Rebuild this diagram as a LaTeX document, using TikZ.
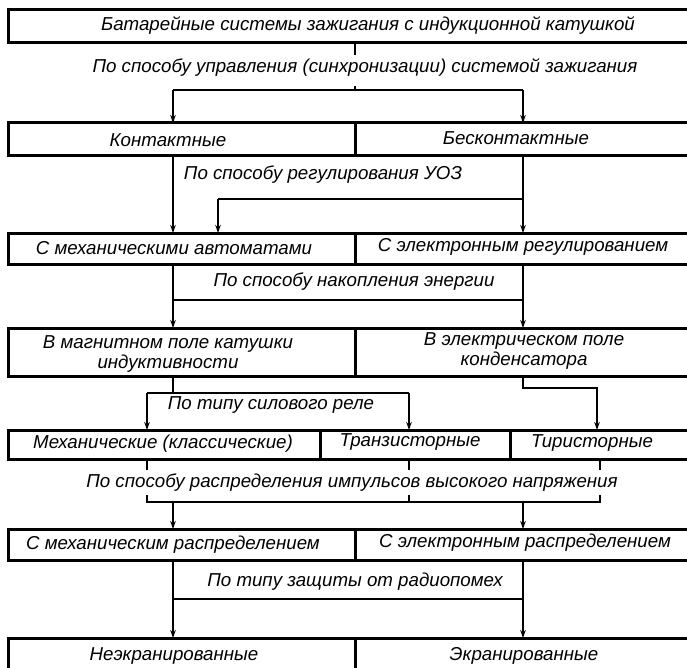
\documentclass[tikz,border=0pt]{standalone}
\usepackage{fontspec}
\setmainfont{Liberation Sans}
\usetikzlibrary{arrows.meta}

\begin{document}
\begin{tikzpicture}[x=1pt, y=-1pt,
    every node/.style={font=\fontsize{18.7}{20}\selectfont\itshape, inner sep=0pt, align=center},
    row/.style={line width=3pt},
    conn/.style={line width=2.4pt},
    arr/.style={line width=2.4pt, -{Stealth[length=8pt, width=5.5pt]}}]
  \useasboundingbox (0,0) rectangle (687,668);
  \clip (0,0) rectangle (687,668);

  % Строки
  \draw[row] (8,10) rectangle (760,43);
  \draw[row] (8,123) rectangle (760,156);
  \draw[row] (355,123) -- (355,156);
  \draw[row] (8,233) rectangle (760,264);
  \draw[row] (355,233) -- (355,264);
  \draw[row] (8,328) rectangle (760,376);
  \draw[row] (355,328) -- (355,376);
  \draw[row] (8,430) rectangle (760,459);
  \draw[row] (320,430) -- (320,459);
  \draw[row] (510,430) -- (510,459);
  \draw[row] (8,529) rectangle (760,560);
  \draw[row] (355,529) -- (355,560);
  \draw[row] (8,638) rectangle (760,700);
  \draw[row] (355,638) -- (355,700);

  \coordinate (r1b) at (0,43);
  \coordinate (r2t) at (0,123);
  \coordinate (r2b) at (0,156);
  \coordinate (r3t) at (0,233);
  \coordinate (r3b) at (0,264);
  \coordinate (r4t) at (0,328);
  \coordinate (r4b) at (0,376);
  \coordinate (r5t) at (0,430);
  \coordinate (r5b) at (0,459);
  \coordinate (r6t) at (0,529);
  \coordinate (r6b) at (0,560);
  \coordinate (r7t) at (0,638);

  % Тексты в строках
  \node (bat) at (368,26) {Батарейные системы зажигания с индукционной катушкой};
  \node (kont) at (168,140) {Контактные};
  \node (bkont) at (516,138) {Бесконтактные};
  \node (mech) at (174,248) {С механическими автоматами};
  \node (el) at (523,247) {С электронным регулированием};
  \node (magn) at (168,354) {В магнитном поле катушки\\индуктивности};
  \node (kond) at (524,351) {В электрическом поле\\конденсатора};
  \node (klass) at (163,444) {Механические (классические)};
  \node (tranz) at (410,442) {Транзисторные};
  \node (tir) at (592,443) {Тиристорные};
  \node (mraspr) at (173,545) {С механическим распределением};
  \node (eraspr) at (525,543) {С электронным распределением};
  \node (neekr) at (174,656) {Неэкранированные};
  \node (ekr) at (524,656) {Экранированные};

  % Признаки
  \node (q1) at (365,68) {По способу управления (синхронизации) системой зажигания};
  \node (q2) at (323,175) {По способу регулирования УОЗ};
  \node (q3) at (354,282) {По способу накопления энергии};
  \node (q4) at (271,405) {По типу силового реле};
  \node (q5) at (352,483) {По способу распределения импульсов высокого напряжения};
  \node (q6) at (355,582) {По типу защиты от радиопомех};

  % Уровень 1
  \coordinate (u1) at (355,55);
  \coordinate (u2) at (355,86);
  \coordinate (h1l) at (173,90);
  \coordinate (h1r) at (523,90);
  \draw[conn] (u1 |- r1b) -- (u1);
  \draw[conn] (u2) -- (u2 |- h1l);
  \draw[conn] (h1l) -- (h1r);
  \draw[arr] (h1l) -- (h1l |- r2t);
  \draw[arr] (h1r) -- (h1r |- r2t);

  % Уровень 2
  \coordinate (h2l) at (218,199);
  \coordinate (h2r) at (523,199);
  \draw[arr] (h1l |- r2b) -- (h1l |- r3t);
  \draw[arr] (h2r |- r2b) -- (h2r |- r3t);
  \draw[conn] (h2l) -- (h2r);
  \draw[arr] (h2l) -- (h2l |- r3t);

  % Уровень 3
  \coordinate (h3l) at (173,300);
  \coordinate (h3r) at (523,300);
  \draw[arr] (h3l |- r3b) -- (h3l |- r4t);
  \draw[arr] (h3r |- r3b) -- (h3r |- r4t);
  \draw[conn] (h3l) -- (h3r);

  % Уровень 4
  \coordinate (s4) at (173,393);
  \coordinate (h4l) at (147,393);
  \coordinate (h4r) at (409,393);
  \coordinate (k4) at (523,388);
  \coordinate (k4r) at (597,388);
  \draw[conn] (s4 |- r4b) -- (s4);
  \draw[conn] (h4l) -- (h4r);
  \draw[arr] (h4l) -- (h4l |- r5t);
  \draw[arr] (h4r) -- (h4r |- r5t);
  \draw[arr] (k4 |- r4b) -- (k4) -- (k4r) -- (k4r |- r5t);

  % Уровень 5
  \coordinate (t5a) at (147,470);
  \coordinate (t5b) at (409,470);
  \coordinate (t5c) at (600,470);
  \coordinate (e5l) at (147,495);
  \coordinate (e5m) at (409,495);
  \coordinate (e5r) at (600,495);
  \coordinate (b5) at (0,502);
  \coordinate (a5l) at (173,502);
  \coordinate (a5r) at (523,502);
  \draw[conn] (t5a |- r5b) -- (t5a);
  \draw[conn] (t5b |- r5b) -- (t5b);
  \draw[conn] (t5c |- r5b) -- (t5c);
  \draw[conn] (e5l) -- (e5l |- b5) -- (e5r |- b5) -- (e5r);
  \draw[conn] (e5m) -- (e5m |- b5);
  \draw[arr] (a5l) -- (a5l |- r6t);
  \draw[arr] (a5r) -- (a5r |- r6t);

  % Уровень 6
  \coordinate (h6l) at (173,599);
  \coordinate (h6r) at (523,599);
  \draw[arr] (h6l |- r6b) -- (h6l |- r7t);
  \draw[arr] (h6r |- r6b) -- (h6r |- r7t);
  \draw[conn] (h6l) -- (h6r);
\end{tikzpicture}
\end{document}
